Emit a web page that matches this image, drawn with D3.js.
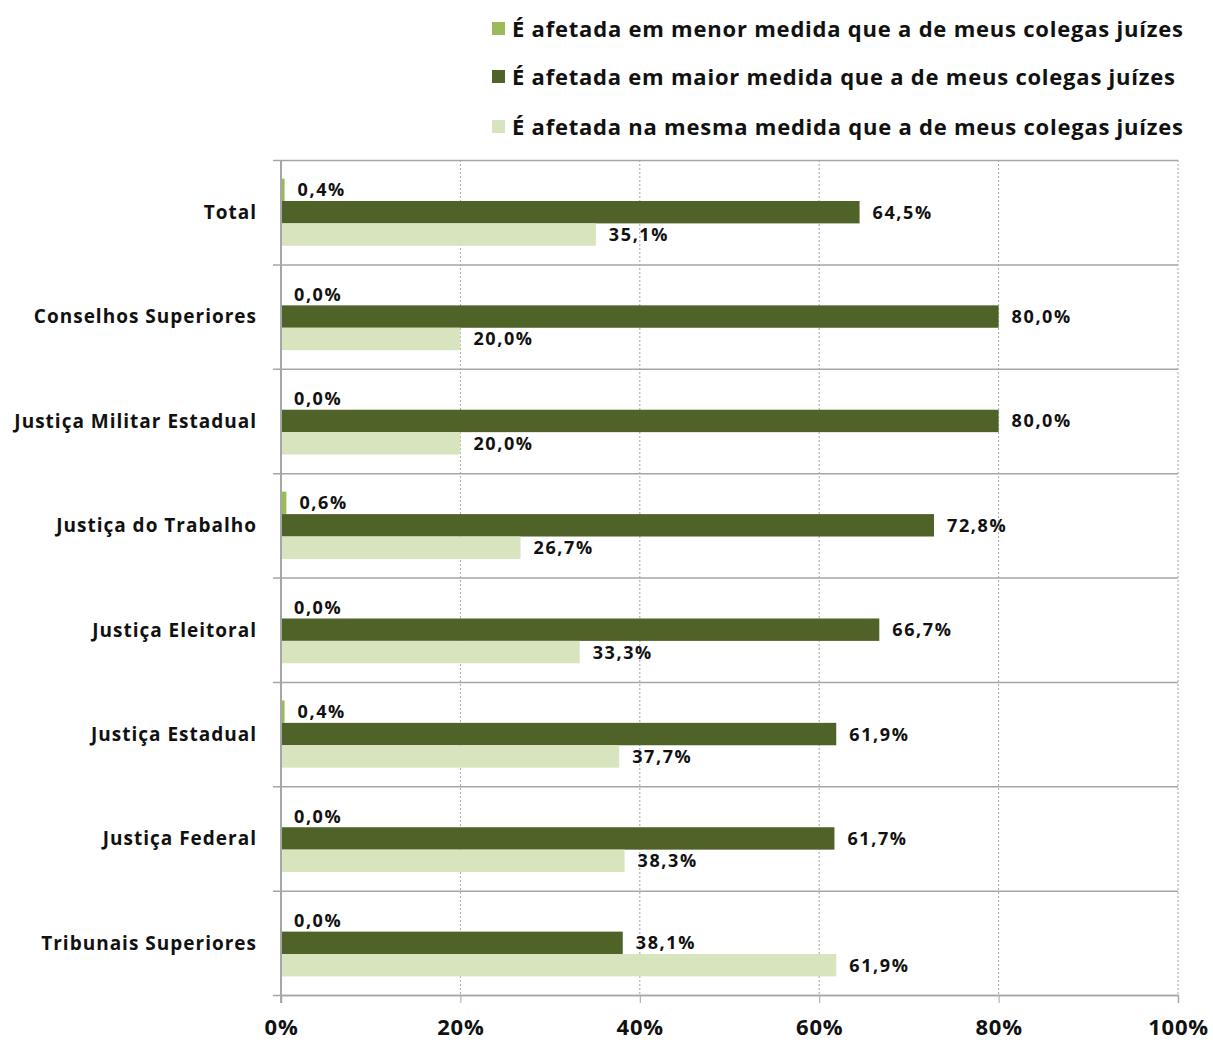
<!DOCTYPE html>
<html><head><meta charset="utf-8">
<script src="https://cdn.jsdelivr.net/npm/d3@7"></script>
<style>
body{margin:0;background:#fff;}
text{font-family:"Open Sans",Lato,sans-serif;font-weight:bold;fill:#111;}
</style></head>
<body><svg id="c" width="1213" height="1043"></svg>
<script>
const categories = ["Total","Conselhos Superiores","Justiça Militar Estadual","Justiça do Trabalho","Justiça Eleitoral","Justiça Estadual","Justiça Federal","Tribunais Superiores"];
const seriesNames = ["É afetada em menor medida que a de meus colegas juízes","É afetada em maior medida que a de meus colegas juízes","É afetada na mesma medida que a de meus colegas juízes"];
const menor = [0.4,0.0,0.0,0.6,0.0,0.4,0.0,0.0];
const maior = [64.5,80.0,80.0,72.8,66.7,61.9,61.7,38.1];
const mesma = [35.1,20.0,20.0,26.7,33.3,37.7,38.3,61.9];
const ticks = [0,20,40,60,80,100];
const colors = ["#9bbb59","#4f6228","#d7e4bd"];
const series = [menor, maior, mesma];

const svg = d3.select("#c");
const L = 281, R = 1178, T = 160, B = 995;
const x = d3.scaleLinear().domain([0,100]).range([L,R]);
const y = d3.scaleBand().domain(categories).range([T,B]);
const inner = d3.scaleBand().domain([0,1,2]).range([0, y.bandwidth()]).paddingOuter(0.83).paddingInner(0);

// vertical dotted gridlines
svg.append("g").selectAll("line").data(ticks.slice(1)).join("line")
  .attr("x1",d=>x(d)).attr("x2",d=>x(d)).attr("y1",T).attr("y2",B)
  .attr("stroke","#a6a6a6").attr("stroke-dasharray","2,2");

// horizontal separators
const seps = categories.map((c)=>y(c)).concat([B]);
svg.append("g").selectAll("line").data(seps).join("line")
  .attr("x1",273).attr("x2",R).attr("y1",d=>d+0.5).attr("y2",d=>d+0.5)
  .attr("stroke","#a6a6a6").attr("stroke-width",1.5);

// bars
series.forEach((vals,si)=>{
  svg.append("g").selectAll("rect").data(vals).join("rect")
    .attr("x",x(0)).attr("y",(d,i)=>y(categories[i])+inner(si))
    .attr("width",d=>x(d)-x(0)).attr("height",inner.bandwidth())
    .attr("fill",colors[si]);
  svg.append("g").selectAll("text").data(vals).join("text")
    .attr("x",d=>x(d)+13).attr("y",(d,i)=>y(categories[i])+inner(si)+inner.bandwidth()/2)
    .attr("dy","0.36em").attr("font-size",18).attr("letter-spacing",1.6)
    .text(d=>d.toFixed(1).replace(".",",")+"%");
});

// y axis line
svg.append("line").attr("x1",L).attr("x2",L).attr("y1",T).attr("y2",B+8)
  .attr("stroke","#a6a6a6").attr("stroke-width",2);

// x axis
const xa = svg.append("g").attr("transform",`translate(0,${B})`)
  .call(d3.axisBottom(x).tickValues(ticks).tickSize(8).tickFormat(d=>d+"%"));
xa.select(".domain").attr("stroke","#a6a6a6").attr("stroke-width",1.5);
xa.selectAll(".tick line").attr("stroke","#a6a6a6");
xa.selectAll(".tick text").attr("font-size",22).attr("y",24).attr("dy","0.71em").attr("letter-spacing",0.8)
  .style("font-family","'Open Sans',Lato,sans-serif").style("font-weight","bold").attr("fill","#111");

// category labels
svg.append("g").selectAll("text").data(categories).join("text")
  .attr("x",257).attr("y",d=>y(d)+y.bandwidth()/2)
  .attr("dy","0.36em").attr("text-anchor","end").attr("font-size",19).attr("letter-spacing",1.0).text(d=>d);

// legend
const ly = [29,77,127];
const lend = [1183,1175,1183];
const lg = svg.append("g");
seriesNames.forEach((n,i)=>{
  lg.append("rect").attr("x",492).attr("y",ly[i]-7).attr("width",13).attr("height",13).attr("fill",colors[i]);
  lg.append("text").attr("x",512).attr("y",ly[i]).attr("dy","0.36em").attr("font-size",22)
    .attr("textLength",lend[i]-512).attr("lengthAdjust","spacing").text(n);
});
</script></body></html>
